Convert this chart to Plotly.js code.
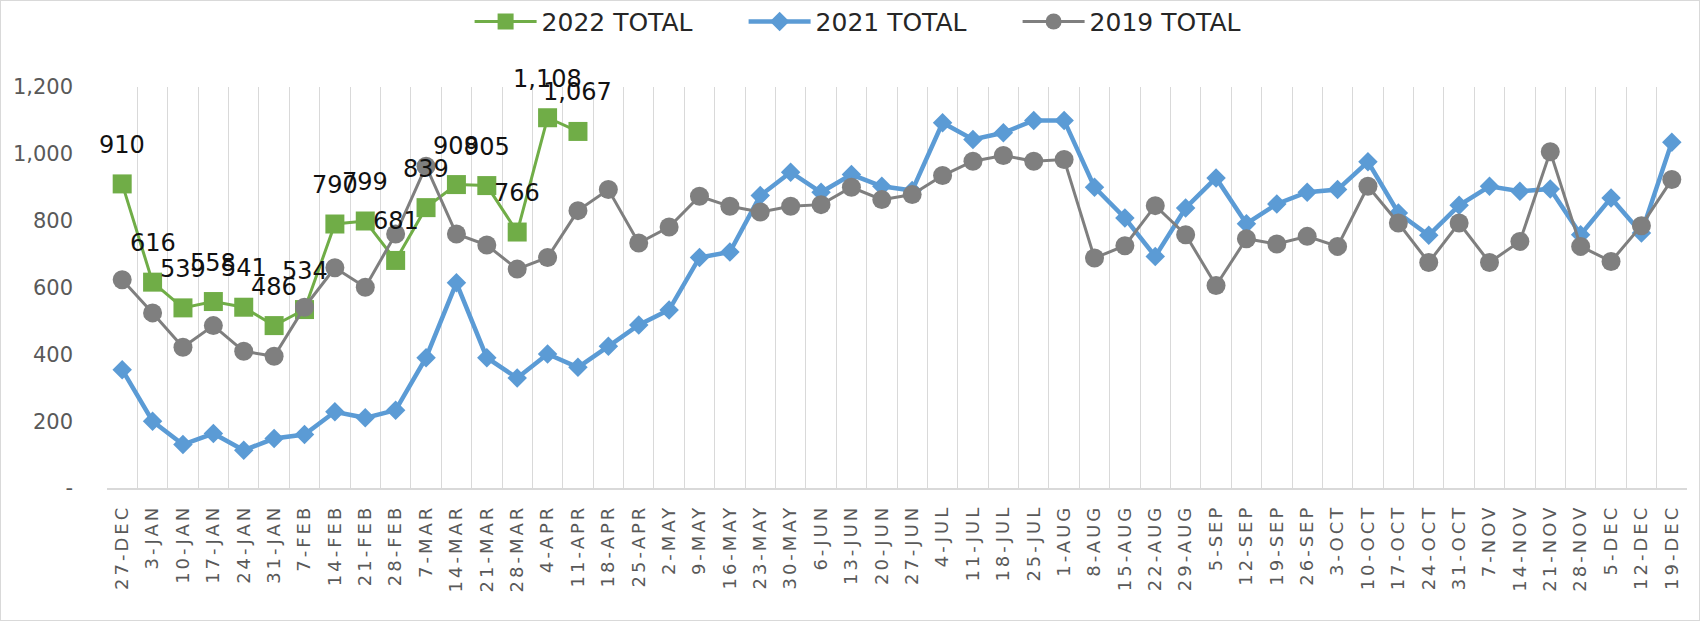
<!DOCTYPE html>
<html>
<head>
<meta charset="utf-8">
<script src="https://cdn.plot.ly/plotly-3.0.1.min.js"></script>
<style>
  html, body { margin: 0; padding: 0; background: #fff; }
  #wrap { position: relative; width: 1700px; height: 621px; }
  #chart { width: 1700px; height: 621px; }
  #frame { position: absolute; left: 0; top: 0; width: 1700px; height: 621px; box-sizing: border-box; border: 1px solid #d9d9d9; pointer-events: none; }
  .xtick text { letter-spacing: 3px; }
</style>
</head>
<body>
<div id="wrap"><div id="chart"></div><div id="frame"></div></div>
<script>
const categories = ["27-DEC","3-JAN","10-JAN","17-JAN","24-JAN","31-JAN","7-FEB","14-FEB","21-FEB","28-FEB",
  "7-MAR","14-MAR","21-MAR","28-MAR","4-APR","11-APR","18-APR","25-APR","2-MAY","9-MAY","16-MAY","23-MAY","30-MAY",
  "6-JUN","13-JUN","20-JUN","27-JUN","4-JUL","11-JUL","18-JUL","25-JUL","1-AUG","8-AUG","15-AUG","22-AUG","29-AUG",
  "5-SEP","12-SEP","19-SEP","26-SEP","3-OCT","10-OCT","17-OCT","24-OCT","31-OCT","7-NOV","14-NOV","21-NOV","28-NOV",
  "5-DEC","12-DEC","19-DEC"];

const total2022 = [910,616,539,558,541,486,534,790,799,681,839,908,905,766,1108,1067];

const total2021 = [354,200,130,163,113,148,160,228,210,233,390,614,390,329,401,361,424,488,533,690,706,875,945,
  885,938,903,890,1093,1043,1063,1100,1100,900,808,693,838,928,791,850,885,893,976,823,756,846,903,888,895,758,
  868,763,1035];

const total2019 = [623,524,421,486,409,394,541,659,601,760,963,760,727,655,690,830,893,733,781,873,843,826,843,
  848,900,863,878,935,978,995,978,983,688,725,845,758,606,746,730,753,723,903,793,675,793,675,738,1006,723,
  678,785,923];

const yTickVals = [0,200,400,600,800,1000,1200];
const yTickText = ["-","200","400","600","800","1,000","1,200"];

const FONT = "DejaVu Sans";

const traces = [
  {
    name: "2022 TOTAL", x: categories.slice(0, total2022.length), y: total2022,
    type: "scatter", mode: "lines+markers",
    line: {color: "#70ad47", width: 3},
    marker: {symbol: "square", size: 19, color: "#70ad47"}
  },
  {
    name: "2021 TOTAL", x: categories, y: total2021,
    type: "scatter", mode: "lines+markers",
    line: {color: "#5b9bd5", width: 4.5},
    marker: {symbol: "diamond", size: 15, color: "#5b9bd5"}
  },
  {
    name: "2019 TOTAL", x: categories, y: total2019,
    type: "scatter", mode: "lines+markers",
    line: {color: "#7f7f7f", width: 3},
    marker: {symbol: "circle", size: 19, color: "#7f7f7f"}
  }
];

const annotations = total2022.map((v, i) => ({
  x: categories[i], y: v, xref: "x", yref: "y",
  text: v.toLocaleString("en-US"), showarrow: false, yshift: 39,
  font: {family: FONT, size: 24, color: "#111111"}
}));

const layout = {
  width: 1700, height: 621,
  margin: {l: 107, r: 13, t: 87, b: 133, autoexpand: false},
  paper_bgcolor: "#ffffff", plot_bgcolor: "#ffffff",
  font: {family: FONT, color: "#595959"},
  showlegend: true,
  legend: {
    orientation: "h", x: 0.518, xref: "container", xanchor: "center",
    y: 0.965, yref: "container", yanchor: "middle",
    font: {family: FONT, size: 25, color: "#262626"},
    entrywidth: 197, entrywidthmode: "pixels", itemwidth: 62,
    traceorder: "normal"
  },
  xaxis: {
    type: "category", range: [-0.5, categories.length - 0.5],
    tickson: "boundaries", showgrid: true, gridcolor: "#d9d9d9", gridwidth: 1,
    ticks: "", showline: true, linecolor: "#d9d9d9", linewidth: 1.5,
    tickangle: -90, tickfont: {family: FONT, size: 18, color: "#595959"},
    ticklabelstandoff: 8, zeroline: false, fixedrange: true, automargin: false
  },
  yaxis: {
    range: [0, 1200], tickvals: yTickVals, ticktext: yTickText,
    showgrid: false, zeroline: false, showline: false, ticks: "",
    tickfont: {family: FONT, size: 21, color: "#595959"},
    ticklabelstandoff: 33, fixedrange: true, automargin: false
  },
  annotations: annotations
};

Plotly.newPlot("chart", traces, layout, {displayModeBar: false, staticPlot: true});
</script>
</body>
</html>
